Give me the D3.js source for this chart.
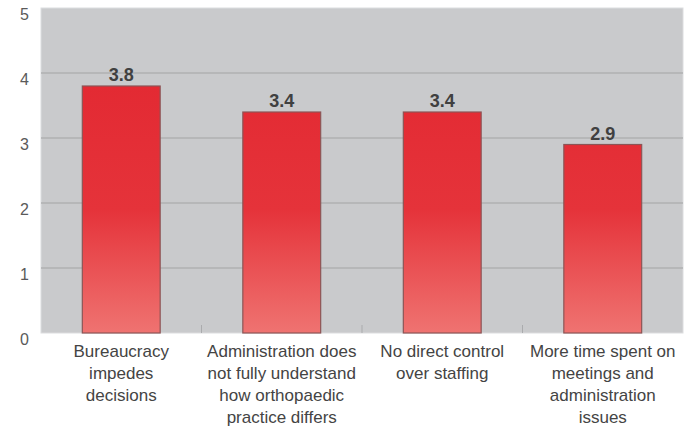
<!DOCTYPE html>
<html>
<head>
<meta charset="utf-8">
<script src="https://cdn.jsdelivr.net/npm/d3@7"></script>
<style>
  html, body { margin: 0; padding: 0; background: #ffffff; }
  svg { display: block; font-family: "Liberation Sans", Arial, sans-serif; }
</style>
</head>
<body>
<svg id="chart" width="695" height="426"></svg>
<script>
// Mean agreement scores for each perceived drawback
const categories = [
  ["Bureaucracy", "impedes", "decisions"],
  ["Administration does", "not fully understand", "how orthopaedic", "practice differs"],
  ["No direct control", "over staffing"],
  ["More time spent on", "meetings and", "administration", "issues"]
];
const values = [3.8, 3.4, 3.4, 2.9];
const yTicks = [0, 1, 2, 3, 4, 5];

const svg = d3.select("#chart");
const plot = { left: 41, right: 683, top: 8, bottom: 333 };

const x = d3.scaleBand()
  .domain(d3.range(categories.length))
  .range([plot.left, plot.right])
  .paddingInner(0.515)
  .paddingOuter(0.2575);

const y = d3.scaleLinear().domain([0, 5]).range([plot.bottom, plot.top]);

// Bar fill: saturated red over most of the height, lightening toward the base
const defs = svg.append("defs");
const grad = defs.append("linearGradient")
  .attr("id", "barFill")
  .attr("gradientUnits", "userSpaceOnUse")
  .attr("x1", 0).attr("x2", 0)
  .attr("y1", y(3.8)).attr("y2", y(0));
grad.append("stop").attr("offset", "0%").attr("stop-color", "#e32a33");
grad.append("stop").attr("offset", "50%").attr("stop-color", "#e5333a");
grad.append("stop").attr("offset", "100%").attr("stop-color", "#ef7371");

// Plot background
svg.append("rect")
  .attr("x", plot.left).attr("y", plot.top)
  .attr("width", plot.right - plot.left)
  .attr("height", plot.bottom - plot.top)
  .attr("fill", "#c9cacc")
  .attr("stroke", "#dcdddf")
  .attr("stroke-width", 1);

// Horizontal gridlines
svg.append("g")
  .selectAll("line")
  .data(yTicks.filter(d => d > 0 && d < 5))
  .join("line")
  .attr("x1", plot.left).attr("x2", plot.right)
  .attr("y1", d => y(d)).attr("y2", d => y(d))
  .attr("stroke", "#afb0b2")
  .attr("stroke-width", 1.5);

// Y axis labels
svg.append("g")
  .selectAll("text")
  .data(yTicks)
  .join("text")
  .attr("x", 29)
  .attr("y", d => y(d) + 12)
  .attr("text-anchor", "end")
  .attr("font-size", 16)
  .attr("fill", "#5a5a5a")
  .text(d => d);

// Category divider ticks on the baseline
svg.append("g")
  .selectAll("line")
  .data(d3.range(1, categories.length))
  .join("line")
  .attr("x1", i => plot.left + i * (plot.right - plot.left) / categories.length)
  .attr("x2", i => plot.left + i * (plot.right - plot.left) / categories.length)
  .attr("y1", plot.bottom - 8).attr("y2", plot.bottom)
  .attr("stroke", "#aaabad")
  .attr("stroke-width", 1);

// Bars
svg.append("g")
  .selectAll("rect")
  .data(values)
  .join("rect")
  .attr("x", (d, i) => x(i))
  .attr("y", d => y(d))
  .attr("width", x.bandwidth())
  .attr("height", d => y(0) - y(d))
  .attr("fill", "url(#barFill)")
  .attr("stroke", "#8c5556")
  .attr("stroke-width", 1.2);

// Value labels above bars
svg.append("g")
  .selectAll("text")
  .data(values)
  .join("text")
  .attr("x", (d, i) => x(i) + x.bandwidth() / 2)
  .attr("y", d => y(d) - 5)
  .attr("text-anchor", "middle")
  .attr("font-size", 18)
  .attr("font-weight", "bold")
  .attr("fill", "#404040")
  .text(d => d.toFixed(1));

// Multi-line category labels
svg.append("g")
  .selectAll("text")
  .data(categories)
  .join("text")
  .attr("x", (d, i) => x(i) + x.bandwidth() / 2)
  .attr("y", 357)
  .attr("text-anchor", "middle")
  .attr("font-size", 17)
  .attr("fill", "#444444")
  .each(function (lines) {
    const t = d3.select(this);
    const cx = t.attr("x");
    lines.forEach((line, k) => {
      t.append("tspan")
        .attr("x", cx)
        .attr("dy", k === 0 ? 0 : 22)
        .text(line);
    });
  });
</script>
</body>
</html>
